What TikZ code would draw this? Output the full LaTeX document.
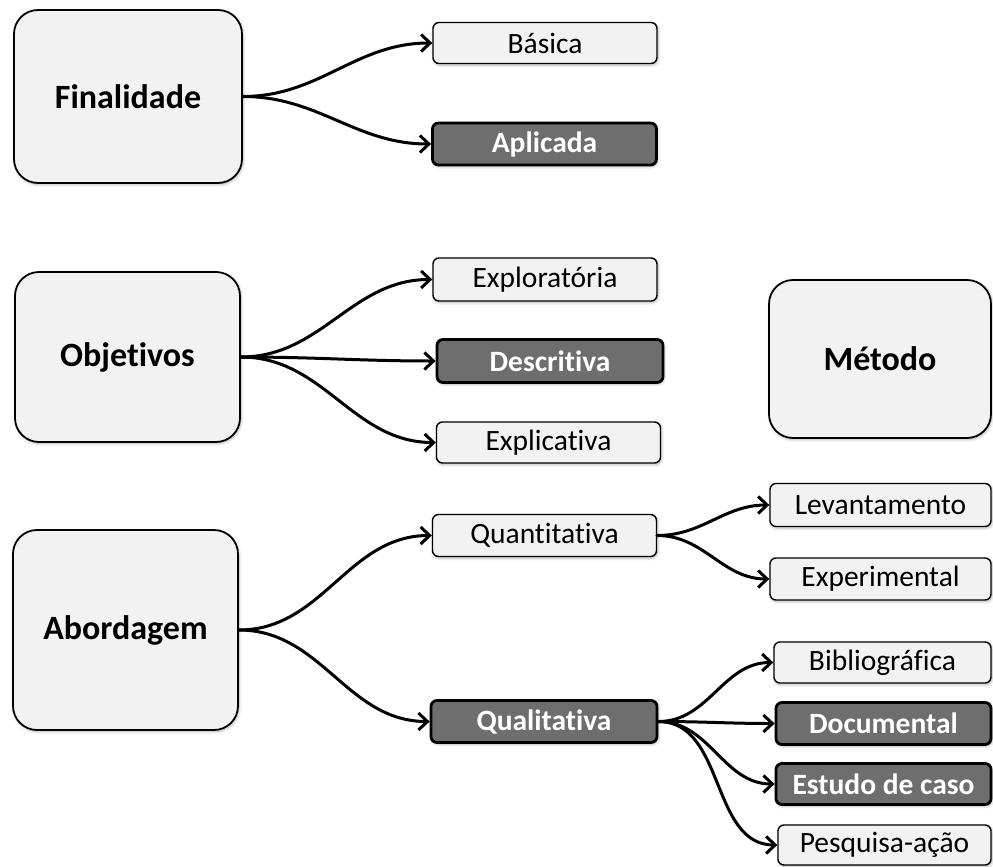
\documentclass[tikz,border=0pt]{standalone}
\usepackage{fontspec}
\setmainfont{Carlito}[Ligatures={NoCommon}]
\usetikzlibrary{arrows.meta,shadows.blur}

\definecolor{boxlight}{HTML}{F2F2F2}
\definecolor{boxdark}{HTML}{6E6E6E}

\tikzset{
  softshadow/.style={blur shadow={shadow xshift=1pt, shadow yshift=-1.5pt,
      shadow opacity=30, shadow blur radius=3pt, shadow blur steps=6}},
  bigbox/.style={draw=black, line width=1.8pt, fill=boxlight,
      rounded corners=24pt, inner sep=0pt, softshadow,
      font=\fontsize{34}{36}\selectfont\bfseries},
  leaf/.style={draw=black, line width=1.4pt, fill=boxlight,
      rounded corners=6pt, inner sep=0pt, softshadow,
      minimum width=224pt, minimum height=41pt,
      font=\fontsize{29.5}{31}\selectfont},
  leafdark/.style={leaf, fill=boxdark, line width=2.8pt, text=white,
      font=\fontsize{29.5}{31}\selectfont\bfseries},
  conn/.style={draw=black, line width=3pt, line cap=round,
      -{Straight Barb[length=9pt,width=17pt,line width=3pt]},
      out=0, in=180}
}

\begin{document}
\begin{tikzpicture}[x=1pt, y=-1pt]
  \useasboundingbox (0,0) rectangle (993,867);

  % category boxes
  \node[bigbox, minimum width=228pt, minimum height=173pt] (fin) at (128,96.5) {Finalidade};
  \node[bigbox, minimum width=225pt, minimum height=170pt] (obj) at (127.5,357) {Objetivos};
  \node[bigbox, minimum width=225pt, minimum height=200pt] (abo) at (125.5,630) {Abordagem};
  \node[bigbox, minimum width=222pt, minimum height=158pt] (met) at (880,359) {Método};

  % Finalidade
  \node[leaf] (bas) at (545,43) {Básica};
  \node[leafdark, minimum height=42pt] (apl) at (544.5,144) {Aplicada};

  % Objetivos
  \node[leaf, minimum height=43pt] (exp) at (545,279.5) {Exploratória};
  \node[leafdark, minimum width=226pt, minimum height=43pt] (des) at (550,361) {Descritiva};
  \node[leaf] (exl) at (548.5,442.5) {Explicativa};

  % Abordagem
  \node[leaf, minimum height=42pt] (qua) at (544.5,535.5) {Quantitativa};
  \node[leafdark, minimum width=226pt, minimum height=42pt] (qul) at (544,721.5) {Qualitativa};

  % Métodos
  \node[leaf, minimum width=221pt, minimum height=43pt] (lev) at (880.5,505) {Levantamento};
  \node[leaf, minimum width=221pt, minimum height=42pt] (exm) at (880.5,579) {Experimental};
  \node[leaf, minimum width=217pt] (bib) at (882.5,662.5) {Bibliográfica};
  \node[leafdark, minimum width=215pt, minimum height=42pt] (doc) at (883.5,723.5) {Documental};
  \node[leafdark, minimum width=215pt, minimum height=41pt] (est) at (883.5,784) {Estudo de caso};
  \node[leaf, minimum width=213pt, minimum height=40pt] (pes) at (884.5,845) {Pesquisa-ação};

  % connectors
  \draw[conn] (fin.east) to (bas.west);
  \draw[conn] (fin.east) to (apl.west);

  \draw[conn] (obj.east) to (exp.west);
  \draw[conn] (obj.east) to (des.west);
  \draw[conn] (obj.east) to (exl.west);

  \draw[conn] (abo.east) to (qua.west);
  \draw[conn] (abo.east) to (qul.west);

  \draw[conn] (qua.east) to (lev.west);
  \draw[conn] (qua.east) to (exm.west);

  \draw[conn] (qul.east) to (bib.west);
  \draw[conn] (qul.east) to (doc.west);
  \draw[conn] (qul.east) to (est.west);
  \draw[conn] (qul.east) to (pes.west);
\end{tikzpicture}
\end{document}
